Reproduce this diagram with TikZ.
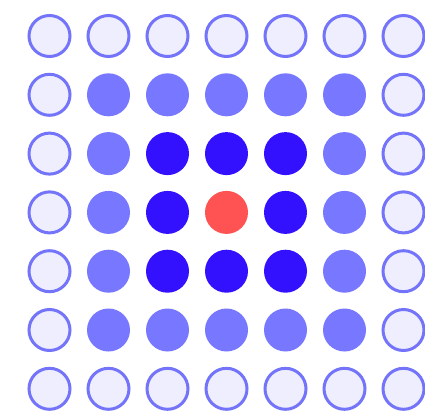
\documentclass[tikz,border=0pt]{standalone}
\definecolor{ringblue}{HTML}{7474FA}
\definecolor{paleblue}{HTML}{EEEEFF}
\definecolor{midblue}{HTML}{7777FF}
\definecolor{deepblue}{HTML}{3311FF}
\definecolor{hotred}{HTML}{FF5252}
\tikzset{
  dot/.style={circle, inner sep=0pt, minimum size=43pt},
  lvl3/.style={dot, draw=ringblue, fill=paleblue, line width=3pt, minimum size=41pt},
  lvl2/.style={dot, fill=midblue},
  lvl1/.style={dot, fill=deepblue},
  lvl0/.style={dot, fill=hotred}
}
\begin{document}
\begin{tikzpicture}[x=1pt, y=-1pt]
    % Canvas
    \fill[white] (0,0) rectangle (425,415);
    \useasboundingbox (0,0) rectangle (425,415);

    % Grid of dots, coloured by distance from the centre
    \foreach \i in {0,...,6} {
        \foreach \j in {0,...,6} {
            \pgfmathtruncatemacro\lvl{max(abs(\i-3),abs(\j-3))}
            \node[style=lvl\lvl] (c-\i-\j) at ({49.5+59*\i}, {36+58.8*\j}) {};
        }
    }
\end{tikzpicture}
\end{document}
